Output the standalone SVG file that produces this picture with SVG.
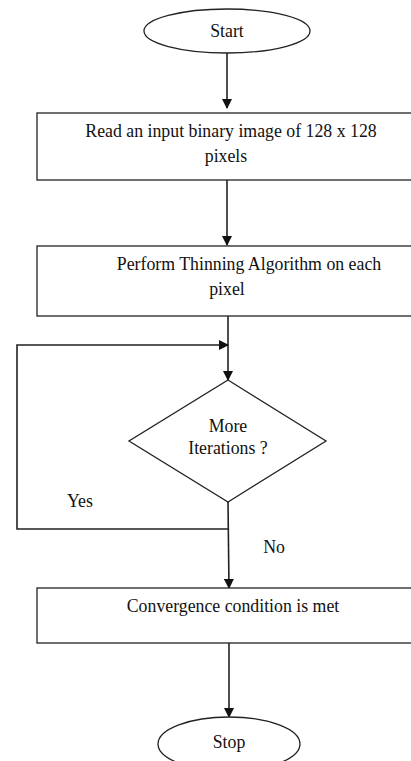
<svg xmlns="http://www.w3.org/2000/svg" width="411" height="761" viewBox="0 0 411 761">
<style>
.shape{fill:#fff;stroke:#222;stroke-width:1.3}
.line{fill:none;stroke:#222;stroke-width:1.6}
text{font-family:"Liberation Serif",serif;font-size:17.8px;fill:#111;text-anchor:middle}
</style>
<defs>
<marker id="arr" markerWidth="10" markerHeight="10" refX="9" refY="5" orient="auto" markerUnits="userSpaceOnUse">
<path d="M0,0 L10,5 L0,10 Z" fill="#111"/>
</marker>
</defs>
<rect width="411" height="761" fill="#fff"/>
<g id="connectors">
<line class="line" x1="227" y1="53" x2="227" y2="108" marker-end="url(#arr)"/>
<line class="line" x1="227" y1="180" x2="227" y2="245" marker-end="url(#arr)"/>
<line class="line" x1="228" y1="316" x2="228" y2="380" marker-end="url(#arr)"/>
<polyline class="line" points="228,529 17,529 17,345 228,345" marker-end="url(#arr)"/>
<line class="line" x1="228" y1="502" x2="229" y2="588" marker-end="url(#arr)"/>
<line class="line" x1="229" y1="643" x2="229" y2="717" marker-end="url(#arr)"/>
</g>
<g id="start">
<ellipse class="shape" cx="227" cy="31" rx="83" ry="22"/>
<text x="227" y="37">Start</text>
</g>
<g id="read">
<rect class="shape" x="37" y="113" width="380" height="67"/>
<text x="231" y="137">Read an input binary image of 128 x 128</text>
<text x="226" y="162">pixels</text>
</g>
<g id="thinning">
<rect class="shape" x="37" y="246" width="380" height="70"/>
<text x="249" y="270">Perform Thinning Algorithm on each</text>
<text x="227" y="295">pixel</text>
</g>
<g id="decision">
<polygon class="shape" points="228,380 326,441 228,502 129,441"/>
<text x="228" y="432">More</text>
<text x="228" y="454">Iterations ?</text>
</g>
<g id="labels">
<text x="80" y="507">Yes</text>
<text x="274" y="553">No</text>
</g>
<g id="converge">
<rect class="shape" x="37" y="588" width="380" height="55"/>
<text x="233" y="612">Convergence condition is met</text>
</g>
<g id="stop">
<ellipse class="shape" cx="229" cy="744" rx="71" ry="27"/>
<text x="229" y="748">Stop</text>
</g>
</svg>
